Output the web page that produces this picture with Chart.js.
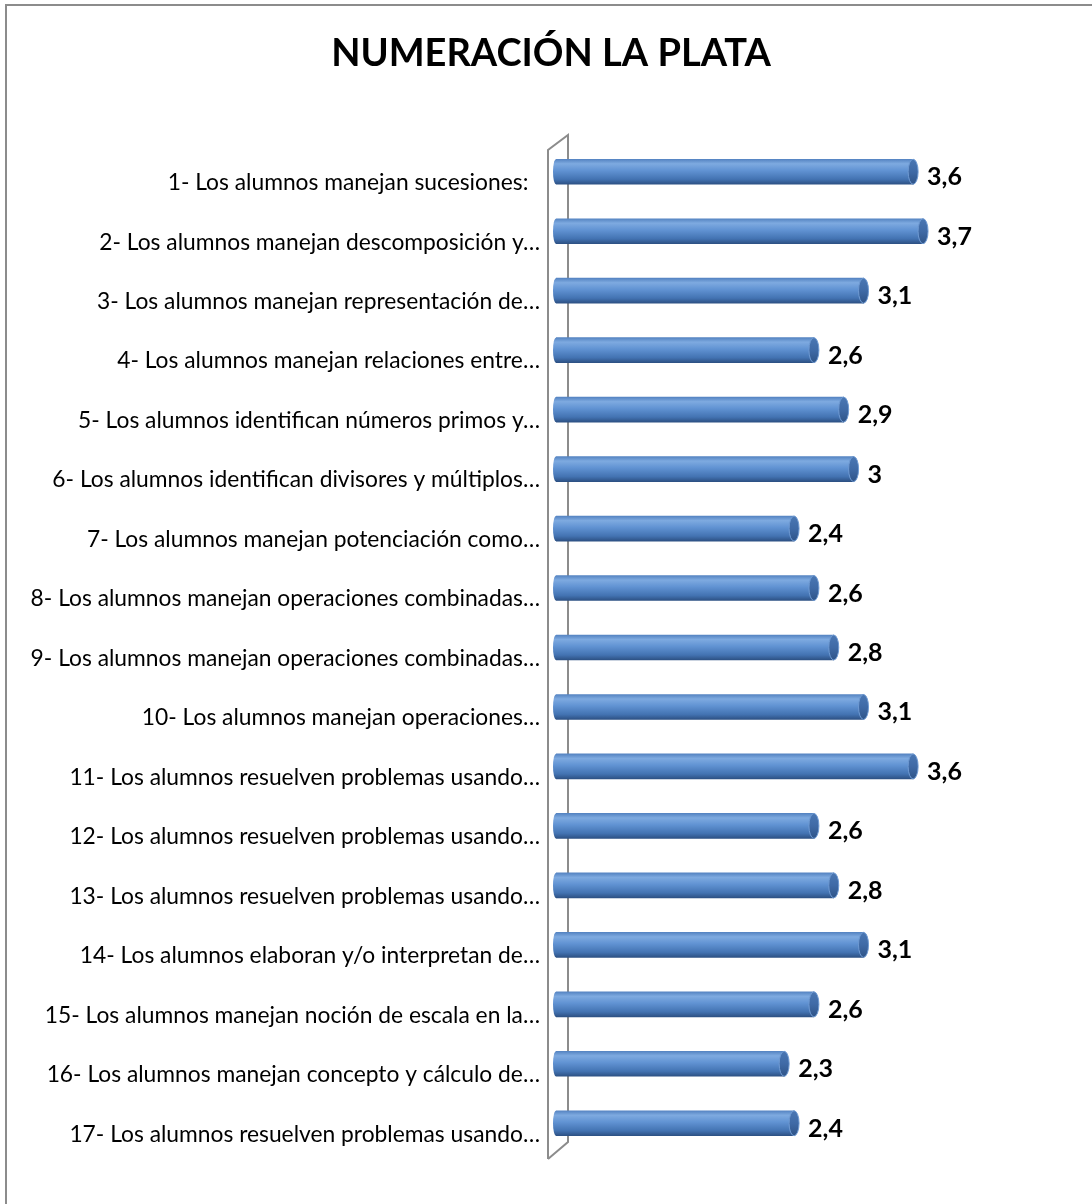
<!DOCTYPE html>
<html>
<head>
<meta charset="utf-8">
<script src="https://cdn.jsdelivr.net/npm/chart.js@4/dist/chart.umd.min.js"></script>
<style>
  html, body { margin: 0; padding: 0; background: #fff; overflow: hidden; }
  #frame {
    position: absolute; left: 5px; top: 4px;
    width: 1200px; height: 1300px;
    border: 2px solid #8c8c8c;
  }
  #wrap { position: absolute; left: 0; top: 0; width: 1092px; height: 1204px; }
</style>
</head>
<body>
<div id="frame"></div>
<div id="wrap"><canvas id="chart" width="1092" height="1204"></canvas></div>
<script>
// Categories and scores
const categories = [
    '1- Los alumnos manejan sucesiones:  ',
    '2- Los alumnos manejan descomposición y…',
    '3- Los alumnos manejan representación de…',
    '4- Los alumnos manejan relaciones entre…',
    '5- Los alumnos identifican números primos y…',
    '6- Los alumnos identifican divisores y múltiplos…',
    '7- Los alumnos manejan potenciación como…',
    '8- Los alumnos manejan operaciones combinadas…',
    '9- Los alumnos manejan operaciones combinadas…',
    '10- Los alumnos manejan operaciones…',
    '11- Los alumnos resuelven problemas usando…',
    '12- Los alumnos resuelven problemas usando…',
    '13- Los alumnos resuelven problemas usando…',
    '14- Los alumnos elaboran y/o interpretan de…',
    '15- Los alumnos manejan noción de escala en la…',
    '16- Los alumnos manejan concepto y cálculo de…',
    '17- Los alumnos resuelven problemas usando…'
];
const scores = [3.6, 3.7, 3.1, 2.6, 2.9, 3, 2.4, 2.6, 2.8, 3.1, 3.6, 2.6, 2.8, 3.1, 2.6, 2.3, 2.4];
const chartTitle = 'NUMERACIÓN LA PLATA';

const BAR_H = 25;

function bodyGradient(ctx, top, h) {
    const g = ctx.createLinearGradient(0, top, 0, top + h);
    g.addColorStop(0, '#5584c2');
    g.addColorStop(0.18, '#7eaae0');
    g.addColorStop(0.45, '#6193d3');
    g.addColorStop(0.8, '#4373b2');
    g.addColorStop(1, '#2d5184');
    return g;
}

// vertical shading for the cylinder body
function cylinderFill(ctx) {
    const chart = ctx.chart;
    if (!chart.chartArea || ctx.type !== 'data') return '#4f81bd';
    const cy = chart.scales.y.getPixelForValue(ctx.dataIndex);
    return bodyGradient(chart.ctx, cy - BAR_H / 2, BAR_H);
}

// heading, centred on the frame rather than the plot
const headingPlugin = {
    id: 'heading',
    afterDraw(chart) {
        const { ctx } = chart;
        ctx.save();
        ctx.fillStyle = '#000';
        ctx.font = 'bold 38px Lato';
        ctx.textAlign = 'center';
        ctx.textBaseline = 'middle';
        ctx.fillText(chartTitle, 551, 54);
        ctx.restore();
    }
};

// back wall drawn behind the bars
const wallPlugin = {
    id: 'wall',
    beforeDatasetsDraw(chart) {
        const { ctx, chartArea } = chart;
        const x0 = chart.scales.x.getPixelForValue(0);
        const fx = x0 - 8, bx = x0 + 12;
        ctx.save();
        ctx.strokeStyle = '#8c8c8c';
        ctx.lineWidth = 2;
        ctx.beginPath();
        ctx.moveTo(fx, chartArea.bottom + 6);
        ctx.lineTo(fx, chartArea.top + 8);
        ctx.lineTo(bx, chartArea.top - 7);
        ctx.lineTo(bx, chartArea.bottom - 11);
        ctx.lineTo(fx, chartArea.bottom + 6);
        ctx.stroke();
        ctx.restore();
    }
};

// end caps and value labels
const capsPlugin = {
    id: 'caps',
    afterDatasetsDraw(chart) {
        const { ctx } = chart;
        const meta = chart.getDatasetMeta(0);
        ctx.save();
        meta.data.forEach((bar, i) => {
            const cy = bar.y, h = bar.height, base = bar.base;
            const top = cy - h / 2;
            // rounded left end
            ctx.fillStyle = bodyGradient(ctx, top, h);
            ctx.beginPath();
            ctx.ellipse(base, cy, 3, h / 2, 0, Math.PI / 2, Math.PI * 1.5);
            ctx.fill();
            // end face
            const gr = ctx.createLinearGradient(0, top, 0, top + h);
            gr.addColorStop(0, '#4a77b3');
            gr.addColorStop(0.5, '#3f6aa6');
            gr.addColorStop(1, '#2f5488');
            ctx.fillStyle = gr;
            ctx.strokeStyle = '#6f9ad2';
            ctx.lineWidth = 1;
            ctx.beginPath();
            ctx.ellipse(bar.x, cy, 5, h / 2, 0, 0, Math.PI * 2);
            ctx.fill();
            ctx.stroke();
            // value
            ctx.fillStyle = '#000';
            ctx.font = 'bold 25px Lato';
            ctx.textAlign = 'left';
            ctx.textBaseline = 'alphabetic';
            ctx.fillText(String(scores[i]).replace('.', ','), bar.x + 14, cy + 13.5);
        });
        ctx.restore();
    }
};

new Chart(document.getElementById('chart'), {
    type: 'bar',
    data: {
        labels: categories,
        datasets: [{
            data: scores,
            backgroundColor: cylinderFill,
            borderWidth: 0,
            barThickness: BAR_H
        }]
    },
    options: {
        indexAxis: 'y',
        responsive: false,
        animation: false,
        layout: { padding: { left: 0, right: 40, top: 142, bottom: 51 } },
        plugins: {
            legend: { display: false },
            tooltip: { enabled: false },
            title: { display: false }
        },
        scales: {
            x: {
                display: false,
                min: 0,
                max: 5
            },
            y: {
                afterFit(scale) { scale.width = 556; },
                grid: { display: false, drawTicks: false },
                border: { display: false },
                ticks: {
                    color: '#000',
                    padding: 16,
                    labelOffset: 11,
                    font: { family: 'Lato', size: 22.8 }
                }
            }
        }
    },
    plugins: [wallPlugin, capsPlugin, headingPlugin]
});
</script>
</body>
</html>
